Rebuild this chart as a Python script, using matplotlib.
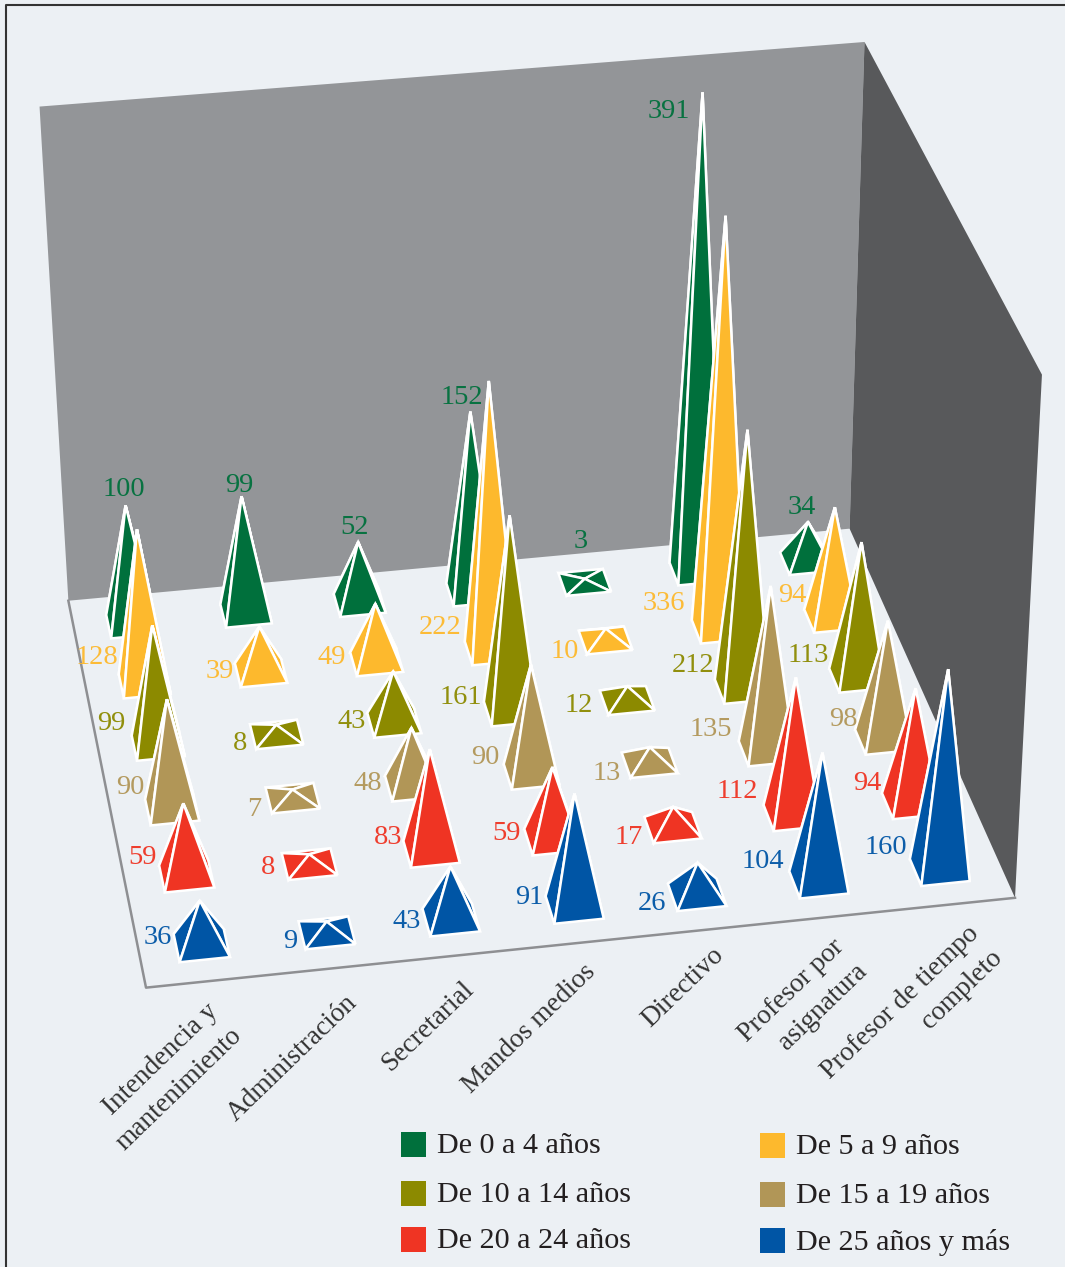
import numpy as np
import matplotlib
matplotlib.use("Agg")
import matplotlib.pyplot as plt
from matplotlib.patches import Polygon, Rectangle

plt.rcParams['font.family'] = ['Liberation Serif', 'DejaVu Serif']

categories = ["Intendencia y\nmantenimiento", "Administración", "Secretarial", "Mandos medios",
              "Directivo", "Profesor por\nasignatura", "Profesor de tiempo\ncompleto"]
series_names = ["De 0 a 4 años", "De 5 a 9 años", "De 10 a 14 años",
                "De 15 a 19 años", "De 20 a 24 años", "De 25 años y más"]
colors = ["#00703C", "#FDB92D", "#8C8A00", "#B19657", "#EF3423", "#0055A5"]

v_0_4 = [100, 99, 52, 152, 3, 391, 34]
v_5_9 = [128, 39, 49, 222, 10, 336, 94]
v_10_14 = [99, 8, 43, 161, 12, 212, 113]
v_15_19 = [90, 7, 48, 90, 13, 135, 98]
v_20_24 = [59, 8, 83, 59, 17, 112, 94]
v_25 = [36, 9, 43, 91, 26, 104, 160]
values = [v_0_4, v_5_9, v_10_14, v_15_19, v_20_24, v_25]

# where the value labels sit, in pixels (hand placed like the original)
label_x = [[124, 239, 355, 462, 581, 669, 802],
           [97, 220, 332, 440, 565, 664, 792],
           [111, 240, 352, 461, 579, 693, 808],
           [130, 254, 368, 485, 607, 711, 843],
           [143, 268, 388, 507, 629, 737, 867],
           [158, 290, 407, 529, 652, 763, 886]]
label_y = [[489, 485, 528, 397, 542, 111, 508],
           [657, 671, 657, 627, 651, 603, 595],
           [723, 743, 721, 697, 705, 666, 655],
           [788, 810, 784, 758, 773, 730, 719],
           [857, 867, 837, 834, 837, 791, 784],
           [938, 941, 922, 898, 904, 862, 847]]
cat_x = [167, 292, 428, 529, 683, 803, 912]
cat_y = [1077, 1058, 1027, 1029, 987, 1003, 1015]

BG = "#ECF0F4"
Z_TOP = 400
HALF = 0.2
n_cat, n_ser = len(categories), len(series_names)
x0, x1 = -0.5, n_cat - 0.5
y0, y1 = -0.5, n_ser - 0.5  # y0 = back of the floor, y1 = front

# camera: fit a projective matrix to the box corners seen in the picture
world = [(x0, y0, 0), (x1, y0, 0), (x1, y1, 0), (x0, y1, 0),
         (x0, y0, Z_TOP), (x1, y0, Z_TOP), (x1, y1, Z_TOP)]
pixels = [(68, 600), (850, 528), (1014, 899), (147, 988),
          (39, 107), (865, 43), (1042, 373)]
A, b = [], []
for (X, Y, Z), (u, v) in zip(world, pixels):
    A.append([X, Y, Z, 1, 0, 0, 0, 0, -u * X, -u * Y, -u * Z])
    A.append([0, 0, 0, 0, X, Y, Z, 1, -v * X, -v * Y, -v * Z])
    b += [u, v]
P = np.linalg.lstsq(np.array(A, float), np.array(b, float), rcond=None)[0]
P = np.append(P, 1.0).reshape(3, 4)


def project(x, y, z):
    p = P @ np.array([x, y, z, 1.0])
    return p[0] / p[2], p[1] / p[2]


def face(ax, pts, color, zorder, lw=1.8, edge="white"):
    ax.add_patch(Polygon([project(*p) for p in pts], closed=True, facecolor=color,
                         edgecolor=edge, linewidth=lw, joinstyle="miter", zorder=zorder))


fig = plt.figure(figsize=(10.65, 12.67), dpi=100, facecolor=BG)
ax = fig.add_axes([0, 0, 1, 1])
ax.set_xlim(0, 1065)
ax.set_ylim(1267, 0)
ax.axis("off")

# frame
ax.plot([6, 6, 1065], [1267, 5, 5], color="#333333", lw=1.5, zorder=1)

# walls and floor
face(ax, [(x0, y0, 0), (x1, y0, 0), (x1, y0, Z_TOP), (x0, y0, Z_TOP)], "#939598", 2, lw=0)
face(ax, [(x1, y0, 0), (x1, y1, 0), (x1, y1, Z_TOP), (x1, y0, Z_TOP)], "#58595B", 2, lw=0)
edge = [project(x0, y0, 0), project(x0, y1, 0), project(x1, y1, 0)]
ax.plot([e[0] for e in edge], [e[1] for e in edge], color="#8E8F92", lw=1.8, zorder=3)

# pyramids, back row first so the front ones cover them
z = 10
for j in range(n_ser):
    for i in range(n_cat):
        h = values[j][i]
        apex = (i, j, h)
        bl = (i - HALF, j - HALF, 0)
        br = (i + HALF, j - HALF, 0)
        fr = (i + HALF, j + HALF, 0)
        fl = (i - HALF, j + HALF, 0)
        for tri in ([bl, br, apex], [br, fr, apex], [bl, fl, apex], [fl, fr, apex]):
            face(ax, tri, colors[j], z)
            z += 1
        ax.text(label_x[j][i], label_y[j][i], str(h), color=colors[j], fontsize=20.5,
                ha="center", va="center", alpha=0.95, zorder=500)

for name, cx, cy in zip(categories, cat_x, cat_y):
    ax.text(cx, cy, name, rotation=44, rotation_mode="anchor", ha="center", va="center",
            multialignment="right", fontsize=19.7, color="#333333", linespacing=1.45, zorder=500)

# legend
leg_x = [401, 760]
leg_y = [1132, 1181, 1227]
for k, name in enumerate(series_names):
    col, row = k % 2, k // 2
    top = leg_y[row] + col
    ax.add_patch(Rectangle((leg_x[col], top), 25, 25, facecolor=colors[k], edgecolor="none", zorder=5))
    ax.text(leg_x[col] + 36, top + 14, name, fontsize=21.7, color="#231F20", va="center", ha="left", zorder=5)

fig.savefig("out.png", dpi=100, facecolor=BG)
